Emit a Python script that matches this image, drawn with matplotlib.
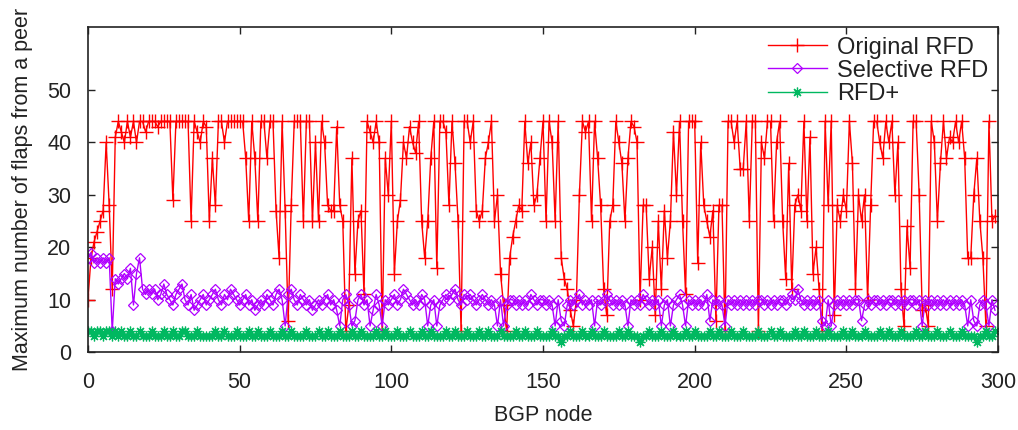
import matplotlib
matplotlib.use("Agg")
import matplotlib.pyplot as plt
import numpy as np

plt.rcParams['font.family'] = ['Liberation Sans', 'DejaVu Sans']

# Maximum number of flaps received from a peer, per BGP node (0..299)
original_rfd = [
    10, 18, 21, 23, 25, 27, 40, 28, 12, 41, 44, 42, 40, 44, 41, 44, 40, 44, 44, 42,
    44, 44, 44, 43, 44, 44, 44, 44, 29, 44, 44, 44, 44, 44, 25, 44, 42, 40, 44, 43,
    25, 37, 28, 44, 44, 40, 44, 44, 44, 44, 44, 44, 37, 25, 44, 37, 25, 44, 44, 37,
    44, 44, 27, 18, 44, 27, 6, 28, 44, 44, 44, 25, 44, 44, 25, 40, 25, 44, 40, 28,
    27, 27, 43, 28, 25, 4, 9, 37, 15, 25, 27, 11, 44, 42, 40, 44, 40, 4, 37, 30,
    44, 15, 25, 29, 40, 37, 43, 40, 38, 44, 25, 18, 25, 37, 44, 16, 44, 44, 42, 28,
    44, 36, 25, 4, 44, 44, 40, 44, 27, 25, 27, 37, 40, 44, 25, 30, 15, 9, 4, 18,
    22, 25, 28, 27, 44, 36, 40, 28, 30, 37, 44, 25, 44, 40, 25, 44, 18, 14, 12, 8,
    5, 10, 30, 44, 42, 44, 25, 44, 37, 28, 12, 7, 25, 28, 44, 40, 36, 25, 37, 44,
    43, 40, 10, 28, 28, 14, 20, 7, 25, 12, 27, 18, 25, 42, 30, 44, 25, 11, 44, 44,
    44, 17, 40, 28, 25, 22, 27, 6, 28, 28, 4, 44, 44, 40, 44, 35, 35, 44, 25, 44,
    44, 4, 40, 37, 44, 44, 25, 40, 44, 25, 14, 36, 12, 28, 30, 27, 44, 25, 41, 15,
    20, 12, 4, 44, 28, 44, 7, 28, 25, 30, 27, 44, 36, 12, 30, 25, 30, 10, 28, 44,
    44, 40, 37, 44, 40, 44, 30, 40, 12, 5, 24, 16, 44, 44, 30, 8, 9, 5, 44, 40,
    25, 36, 44, 37, 41, 40, 44, 40, 44, 37, 18, 18, 30, 37, 25, 18, 5, 44, 25, 26,
]

selective_rfd = [
    18, 19, 17, 18, 17, 18, 17, 18, 4, 14, 13, 14, 15, 14, 16, 9, 15, 18, 12, 11,
    12, 11, 12, 10, 11, 13, 11, 10, 9, 11, 12, 13, 10, 9, 11, 8, 9, 10, 11, 9,
    10, 11, 12, 10, 9, 11, 10, 12, 11, 10, 9, 10, 11, 9, 10, 8, 9, 10, 9, 11,
    10, 9, 11, 12, 10, 5, 11, 12, 10, 9, 11, 10, 9, 10, 8, 9, 10, 9, 10, 11,
    9, 10, 8, 5, 10, 11, 9, 5, 6, 10, 11, 9, 10, 5, 8, 11, 9, 5, 10, 9,
    10, 11, 9, 10, 12, 11, 10, 9, 10, 9, 11, 10, 5, 9, 10, 5, 9, 10, 11, 10,
    11, 12, 10, 9, 11, 10, 11, 10, 9, 10, 11, 10, 9, 10, 9, 5, 10, 5, 9, 10,
    10, 9, 10, 9, 10, 9, 11, 10, 9, 10, 10, 9, 10, 9, 5, 10, 6, 5, 9, 10,
    9, 10, 11, 9, 10, 9, 10, 5, 10, 9, 10, 11, 10, 9, 10, 9, 10, 9, 5, 10,
    9, 10, 9, 11, 10, 9, 10, 9, 10, 5, 9, 10, 5, 9, 10, 11, 9, 5, 10, 9,
    10, 9, 10, 9, 11, 6, 10, 9, 10, 9, 5, 10, 9, 10, 9, 10, 9, 10, 9, 10,
    9, 10, 10, 9, 10, 9, 10, 9, 10, 10, 9, 10, 11, 10, 12, 10, 9, 10, 9, 10,
    9, 10, 6, 5, 10, 5, 9, 10, 9, 10, 9, 10, 9, 10, 10, 6, 9, 10, 9, 10,
    10, 9, 10, 9, 10, 10, 9, 10, 9, 10, 9, 10, 10, 9, 10, 5, 10, 9, 10, 9,
    10, 9, 10, 9, 10, 9, 10, 9, 10, 9, 5, 10, 6, 5, 9, 10, 9, 5, 10, 8,
]

rfd_plus = [
    4, 4, 3, 4, 4, 3, 4, 4, 3, 4, 3, 4, 3, 3, 4, 3, 3, 4, 3, 3,
    3, 4, 3, 3, 3, 4, 3, 3, 4, 3, 3, 4, 4, 3, 3, 3, 4, 3, 3, 3,
    3, 3, 4, 3, 3, 4, 3, 3, 3, 4, 3, 3, 3, 4, 3, 3, 4, 3, 3, 3,
    4, 3, 3, 3, 4, 3, 3, 4, 3, 3, 3, 3, 4, 3, 3, 3, 4, 3, 3, 4,
    3, 3, 3, 4, 3, 3, 3, 4, 3, 3, 4, 3, 3, 3, 3, 4, 3, 3, 4, 3,
    3, 3, 4, 3, 3, 3, 4, 3, 3, 3, 4, 3, 3, 4, 3, 3, 3, 3, 4, 3,
    3, 4, 3, 3, 3, 4, 3, 3, 3, 4, 3, 3, 4, 3, 3, 3, 4, 3, 3, 3,
    3, 4, 3, 3, 4, 3, 3, 3, 4, 3, 3, 3, 3, 4, 3, 3, 2, 3, 3, 4,
    3, 3, 3, 4, 3, 3, 4, 3, 3, 3, 4, 3, 3, 3, 3, 4, 3, 3, 4, 3,
    3, 3, 2, 3, 3, 4, 3, 3, 3, 4, 3, 3, 3, 4, 3, 3, 3, 4, 3, 3,
    4, 3, 3, 3, 3, 4, 3, 3, 4, 3, 3, 3, 4, 3, 3, 3, 4, 3, 3, 3,
    3, 4, 3, 3, 3, 4, 3, 3, 4, 3, 3, 3, 3, 4, 3, 3, 4, 3, 3, 3,
    4, 3, 3, 3, 4, 3, 3, 3, 3, 4, 3, 3, 4, 3, 3, 3, 4, 3, 3, 3,
    3, 4, 3, 3, 4, 3, 3, 3, 4, 3, 3, 3, 3, 4, 3, 3, 4, 3, 3, 3,
    4, 3, 3, 3, 4, 3, 3, 3, 4, 3, 3, 3, 3, 2, 3, 3, 4, 3, 3, 4,
]

nodes = np.arange(len(original_rfd))

x_ticks = [0, 50, 100, 150, 200, 250, 300]
y_ticks = [0, 10, 20, 30, 40, 50]

fig = plt.figure(figsize=(10.18, 4.30), dpi=100)
ax = fig.add_axes([0.0864, 0.181, 0.894, 0.756])

ax.plot(nodes, original_rfd, color='#ff0000', lw=1.0, marker='+',
        markersize=9.5, markeredgewidth=1.0, label='Original RFD')
ax.plot(nodes, selective_rfd, color='#b000ff', lw=1.0, marker='D',
        markersize=5.5, markerfacecolor='none', markeredgewidth=0.9,
        label='Selective RFD')
ax.plot(nodes, rfd_plus, color='#00b860', lw=1.0, marker=(8, 2, 0),
        markersize=7, markeredgewidth=0.9, label='RFD+')

ax.set_xlim(0, 300)
ax.set_ylim(0, 62)
ax.set_xticks(x_ticks)
ax.set_yticks(y_ticks)
ax.tick_params(axis='both', direction='in', length=5, width=1,
               labelsize=15.5, top=True, right=True, colors='#222222')
ax.tick_params(axis='y', pad=12)
ax.tick_params(axis='x', pad=14)
for side in ax.spines.values():
    side.set_linewidth(1.2)
    side.set_color('#222222')

ax.set_xlabel('BGP node', fontsize=15.5, labelpad=9, color='#222222')
ax.set_ylabel('Maximum number of flaps from a peer', fontsize=15.5,
              labelpad=10, color='#222222')

leg = ax.legend(loc='upper right', frameon=False, fontsize=17, numpoints=1,
                handlelength=2.5, handletextpad=0.45, labelspacing=0.05,
                borderaxespad=0.2, borderpad=0.2)
for txt in leg.get_texts():
    txt.set_color('#222222')

fig.savefig('out.png', dpi=100)
